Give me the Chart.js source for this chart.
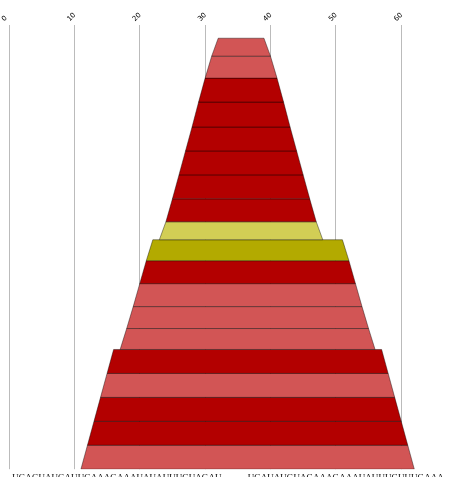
<!DOCTYPE html>
<html>
<head>
<meta charset="utf-8">
<script src="https://cdn.jsdelivr.net/npm/chart.js@4/dist/chart.umd.min.js"></script>
<style>
html, body { margin: 0; padding: 0; background: #fff; overflow: hidden; }
#wrap { width: 452px; height: 477px; overflow: hidden; }
</style>
</head>
<body>
<div id="wrap"><canvas id="myChart" width="452" height="486"></canvas></div>
<script>
// one entry per level, top to bottom
const starts = [32, 31, 30, 29, 28, 27, 26, 25, 24, 22, 21, 20, 19, 18, 16, 15, 14, 13, 12];
const ends = [39, 40, 41, 42, 43, 44, 45, 46, 47, 51, 52, 53, 54, 55, 57, 58, 59, 60, 61];
const levelHeights = [18, 22, 24, 25, 24, 24, 24, 23, 18, 21, 23, 23, 22, 21, 24, 24, 24, 24, 24];
const levelKinds = ['light', 'light', 'dark', 'dark', 'dark', 'dark', 'dark', 'dark', 'pale', 'olive',
    'dark', 'light', 'light', 'light', 'dark', 'light', 'dark', 'dark', 'light'];
const xTicks = [0, 10, 20, 30, 40, 50, 60];
// sequence letters, position 1..66 (33-36 left blank)
const sequence = 'UGAGUAUGAUUGAAAGAAAUAUAUUUGUAGAU' + '    ' + 'UGAUAUGUAGAAAGAAAUAUUUGUUUGAAA';

const kindColors = {
    light: '#d25555',
    dark: '#b30000',
    pale: '#d2ce55',
    olive: '#b3aa00'
};
const TAPER = 1; // each level widens by one unit per side toward its bottom

const datasets = [];
let yTop = 0;
levelHeights.forEach(function (h, i) {
    const yBottom = yTop + h;
    datasets.push({
        data: [
            {x: starts[i], y: yTop},
            {x: ends[i], y: yTop},
            {x: ends[i] + TAPER, y: yBottom},
            {x: starts[i] - TAPER, y: yBottom},
            {x: starts[i], y: yTop}
        ],
        showLine: true,
        fill: 'shape',
        tension: 0,
        pointRadius: 0,
        backgroundColor: kindColors[levelKinds[i]],
        borderColor: 'rgba(0,0,0,0.4)',
        borderWidth: 1,
        xAxisID: 'x',
        yAxisID: 'y'
    });
    yTop = yBottom;
});

const config = {
    type: 'scatter',
    data: {datasets: datasets},
    options: {
        responsive: false,
        animation: false,
        events: [],
        layout: {padding: {left: 9, right: 5, top: 9, bottom: 0}},
        plugins: {legend: {display: false}, tooltip: {enabled: false}},
        scales: {
            x: {
                type: 'linear',
                position: 'top',
                min: 0,
                max: 67,
                afterBuildTicks: function (axis) {
                    axis.ticks = xTicks.map(v => ({value: v}));
                },
                grid: {color: '#bbbbbb', drawTicks: false},
                border: {display: false},
                ticks: {
                    autoSkip: false,
                    minRotation: 45,
                    maxRotation: 45,
                    padding: 2,
                    color: '#000',
                    font: {family: 'DejaVu Sans', size: 7}
                }
            },
            xb: {
                type: 'linear',
                position: 'bottom',
                min: 0,
                max: 67,
                afterBuildTicks: function (axis) {
                    axis.ticks = sequence.split('').map((c, i) => ({value: i + 1}));
                },
                grid: {display: false, drawTicks: false},
                border: {display: false},
                ticks: {
                    autoSkip: false,
                    minRotation: 0,
                    maxRotation: 0,
                    padding: 3,
                    color: '#000',
                    font: {family: 'Liberation Serif', size: 9},
                    callback: function (value) {
                        return sequence[value - 1] || '';
                    }
                }
            },
            y: {
                type: 'linear',
                reverse: true,
                min: -13,
                max: levelHeights.reduce((a, b) => a + b, 0),
                display: false
            }
        }
    }
};

const myChart = new Chart(document.getElementById('myChart'), config);
</script>
</body>
</html>
